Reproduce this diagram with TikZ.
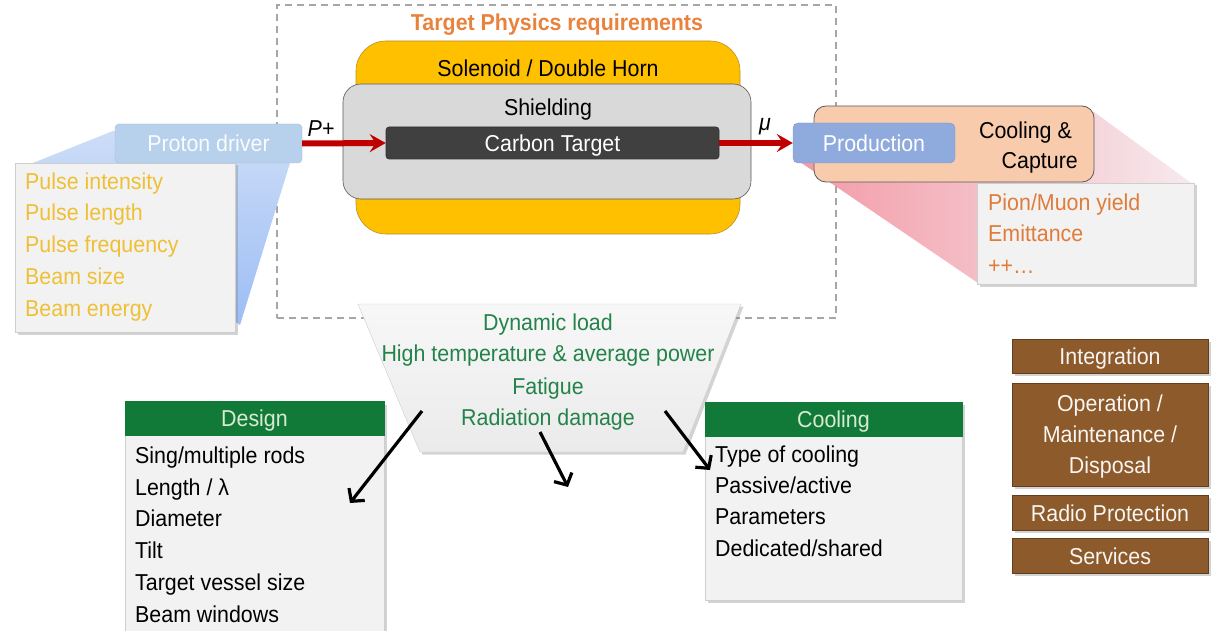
\documentclass[tikz,border=0pt]{standalone}
\usepackage{fontspec}
\setmainfont{Liberation Sans}[FakeStretch=0.93]
\usetikzlibrary{shadows,arrows.meta}
\definecolor{framec}{HTML}{A6A6A6}
\definecolor{titlec}{HTML}{E8823D}
\definecolor{yellowc}{HTML}{FFC000}
\definecolor{yellowd}{HTML}{B8902A}
\definecolor{shieldc}{HTML}{D9D9D9}
\definecolor{carbonc}{HTML}{404040}
\definecolor{redc}{HTML}{C00000}
\definecolor{pdc}{HTML}{B7D0EC}
\definecolor{bluetop}{HTML}{CCDDF7}
\definecolor{bluebot}{HTML}{9CBDF5}
\definecolor{listc}{HTML}{F2F2F2}
\definecolor{goldt}{HTML}{EFC035}
\definecolor{orangt}{HTML}{E07B39}
\definecolor{prodc}{HTML}{8FAADC}
\definecolor{peachc}{HTML}{F8CBAD}
\definecolor{pinkl}{HTML}{F39AA6}
\definecolor{pinkr}{HTML}{F6EAEE}
\definecolor{greent}{HTML}{23834A}
\definecolor{greenh}{HTML}{127A38}
\definecolor{greenht}{HTML}{D9EAD3}
\definecolor{brownc}{HTML}{8C5A2B}
\begin{document}
\begin{tikzpicture}[x=1pt,y=-1pt,
  font=\fontsize{23}{31}\selectfont,
  txt/.style={inner sep=0pt,text height=16.5pt,text depth=0pt},
  shad/.style={drop shadow={opacity=0.35,shadow xshift=2.5pt,shadow yshift=-2.5pt}},
  listbox/.style={fill=listc,draw=listc!85!black,line width=0.4pt,shad,inner sep=0pt},
  redarrow/.style={draw=redc,line width=6pt,-{Stealth[length=16pt,width=18pt,inset=6pt]}},
  blk/.style={draw=black,line width=3.2pt,-{Straight Barb[length=9pt,width=20pt]}},
  brownbox/.style={fill=brownc,draw=brownc!70!black,line width=0.4pt,shad,inner sep=0pt,minimum width=196pt},
  hdr/.style={fill=greenh,draw=greenh,inner sep=0pt,minimum width=259pt,minimum height=34pt,text height=16.5pt,text depth=0pt},
]
\useasboundingbox (0,0) rectangle (1215,631);

% dashed frame
\node[draw=framec,dash pattern=on 7pt off 5pt,line width=1.1pt,inner sep=0pt,
  minimum width=559pt,minimum height=313pt] (frame) at (556.5,161.5) {};
\node[txt,text=titlec,font=\fontsize{23}{31}\selectfont\bfseries] (title) at (557,22) {Target Physics requirements};

% blue funnel
\shade[top color=bluetop,bottom color=bluebot] (113,131) -- (290,163) -- (240,325) -- (33,163) -- cycle;
\node[listbox,minimum width=220pt,minimum height=169pt] (plist) at (125,247.5) {};
\node[fill=pdc,draw=pdc!90!black,line width=0.4pt,rounded corners=4pt,inner sep=0pt,
  minimum width=187pt,minimum height=39pt,text height=16.5pt,text depth=0pt,text=white!92!pdc] (pd) at (208.5,143.5) {Proton driver};
\foreach \t [count=\i] in {Pulse intensity,Pulse length,Pulse frequency,Beam size,Beam energy}
  \node[txt,anchor=west,text=goldt] (pl\i) at (25,181+31.7*\i-31.7) {\t};

% target assembly
\node[fill=yellowc,draw=yellowd,line width=0.6pt,rounded corners=30pt,inner sep=0pt,
  minimum width=384pt,minimum height=193pt] (sol) at (548,137.5) {};
\node[txt] (solt) at (548,68) {Solenoid / Double Horn};
\node[fill=shieldc,draw=gray!70!black,line width=0.6pt,rounded corners=18pt,inner sep=0pt,
  minimum width=408pt,minimum height=115pt] (shield) at (547,141.5) {};
\node[txt] (shieldt) at (548,107) {Shielding};
\node[fill=carbonc,draw=black!80,line width=0.6pt,rounded corners=3pt,inner sep=0pt,
  minimum width=333pt,minimum height=32pt,text height=16.5pt,text depth=0pt,text=white] (ct) at (552.5,143) {Carbon Target};

% pink funnel
\shade[left color=pinkl,right color=pinkr] (797,160) -- (1094,112) -- (1194,185) -- (978,283) -- cycle;
\node[listbox,minimum width=217pt,minimum height=101pt] (clist) at (1085.5,233.5) {};
\node[fill=peachc,draw=black!65,line width=0.8pt,rounded corners=12pt,inner sep=0pt,
  minimum width=280pt,minimum height=76pt] (cap) at (954,144) {};
\node[txt,anchor=east] (capt1) at (1072,130) {Cooling \&};
\node[txt,anchor=east] (capt2) at (1078,160) {Capture};
\node[fill=prodc,draw=prodc!90!black,line width=0.4pt,rounded corners=5pt,inner sep=0pt,
  minimum width=162pt,minimum height=40pt,text height=16.5pt,text depth=0pt,text=white] (prod) at (874,143) {Production};
\foreach \t/\y [count=\i] in {{Pion/Muon yield}/202,Emittance/233,++\ldots/265}
  \node[txt,anchor=west,text=orangt] (cl\i) at (988,\y) {\t};

% red arrows
\draw[redarrow] (pd.east) -- (ct.west);
\draw[redarrow] (ct.east) -- (prod.west);
\node[txt,font=\fontsize{23}{31}\selectfont\itshape] (pplus) at (321,128) {P+};
\node[txt,font=\fontsize{23}{31}\selectfont\itshape] (mu) at (765,122) {μ};

% trapezoid
\path[shad,top color=white!97!black,bottom color=white!92!black,draw=white!80!black,line width=0.4pt]
  (358,304) -- (741,304) -- (683,452) -- (420,452) -- cycle;
\foreach \t/\y [count=\i] in {Dynamic load/322,High temperature \& average power/353,Fatigue/386,Radiation damage/417}
  \node[txt,text=greent] (ld\i) at (548,\y) {\t};

% design box
\node[listbox,minimum width=259pt,minimum height=240pt] (des) at (254.5,522) {};
\node[hdr,text=greenht] (desh) at (254.5,418.5) {Design};
\foreach \t [count=\i] in {{Sing/multiple rods},{Length / λ},Diameter,Tilt,Target vessel size,Beam windows}
  \node[txt,anchor=west] (dl\i) at (135,455+31.8*\i-31.8) {\t};

% cooling box
\node[listbox,minimum width=257pt,minimum height=198pt] (cool) at (833.5,501) {};
\node[hdr,minimum width=257pt,text=greenht] (coolh) at (833.5,419.5) {Cooling};
\foreach \t [count=\i] in {Type of cooling,{Passive/active},Parameters,{Dedicated/shared}}
  \node[txt,anchor=west] (kl\i) at (715,454+31.3*\i-31.3) {\t};

% black arrows
\coordinate (s1) at (422,411); \coordinate (e1) at (350,503);
\coordinate (s2) at (540,432); \coordinate (e2) at (568,487);
\coordinate (s3) at (665,411); \coordinate (e3) at (710,470);
\draw[blk] (s1) -- (e1);
\draw[blk] (s2) -- (e2);
\draw[blk] (s3) -- (e3);

% brown boxes
\node[brownbox,minimum height=34pt] (integ) at (1110,356) {};
\node[txt,text=white!94!brownc] (integt) at (1110,356) {Integration};
\node[brownbox,minimum height=103pt] (oper) at (1110,434.5) {};
\foreach \t/\y [count=\i] in {{Operation /}/403,{Maintenance /}/434,Disposal/465}
  \node[txt,text=white!94!brownc] (op\i) at (1110,\y) {\t};
\node[brownbox,minimum height=35pt] (radio) at (1110,512.5) {};
\node[txt,text=white!94!brownc] (radiot) at (1110,513) {Radio Protection};
\node[brownbox,minimum height=35pt] (serv) at (1110,555.5) {};
\node[txt,text=white!94!brownc] (servt) at (1110,556) {Services};
\end{tikzpicture}
\end{document}
